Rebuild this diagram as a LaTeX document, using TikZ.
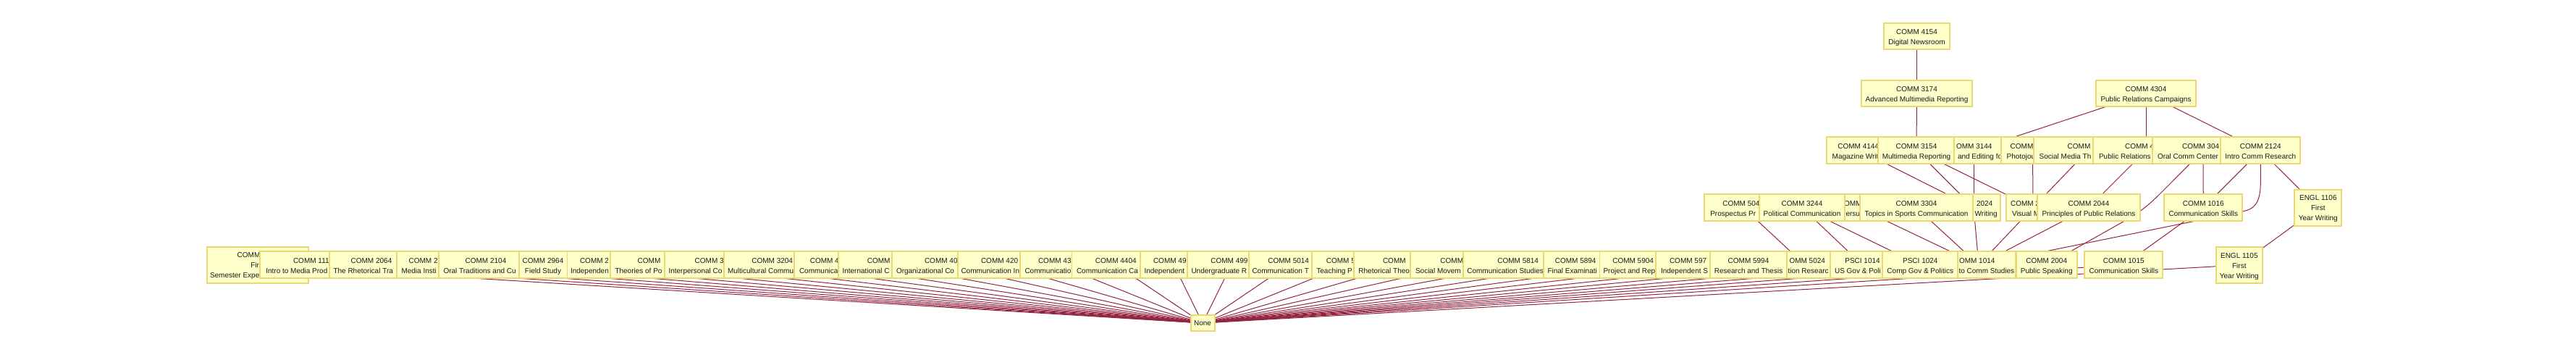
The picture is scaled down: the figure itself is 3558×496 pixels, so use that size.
\documentclass[tikz,border=0pt]{standalone}
\usepackage{fontspec}
\setmainfont{Liberation Sans}
\definecolor{boxfill}{RGB}{255,255,202}
\definecolor{boxline}{RGB}{234,216,116}
\definecolor{edgecol}{RGB}{146,36,64}
\tikzset{
  vbox/.style={draw=boxline, fill=boxfill, line width=1.8pt, inner sep=0pt, outer sep=0pt, minimum height=36.7pt},
  tall/.style={minimum height=50pt},
  tx/.style={inner sep=0pt, outer sep=0pt, font=\fontsize{10}{12}\selectfont, text=black!90},
  edge/.style={draw=edgecol, line width=1pt},
}
\newcommand\txl[3]{\node[tx,anchor=base west] at (#1,#2) {#3};}
\newcommand\txc[3]{\node[tx,anchor=base] at (#1,#2) {#3};}
\newcommand\boxnode[6]{%
  \node[vbox,#5,minimum width={(#3)-(#2)}] (#1) at ({((#2)+(#3))/2},#4) {};
  \begin{scope}
    \clip ([xshift=0.9pt,yshift=0.9pt]#1.south west) rectangle ([xshift=-0.9pt,yshift=-0.9pt]#1.north east);
    #6
  \end{scope}}
\begin{document}
\begin{tikzpicture}[x=1pt,y=-1pt]
\fill[white] (0,0) rectangle (3558,496);
\useasboundingbox (0,0) rectangle (3558,496);
% ---------- true centres ----------
\coordinate (p4154) at (2647.5,50);
\coordinate (p3174) at (2647.5,129);
\coordinate (p4304) at (2964,129);
\coordinate (pa1) at (2569,207.7);
\coordinate (pa2) at (2647,207.7);
\coordinate (pa3) at (2726,207.7);
\coordinate (pa4) at (2807.5,207.7);
\coordinate (pa5) at (2884,207.7);
\coordinate (pa6) at (2964,207.7);
\coordinate (pa7) at (3043,207.7);
\coordinate (pa8) at (3122.3,207.7);
\coordinate (pc1) at (2408,286.7);
\coordinate (pc2) at (2489,286.7);
\coordinate (pc3) at (2567,286.7);
\coordinate (pc4) at (2647,286.7);
\coordinate (pc5) at (2726,286.7);
\coordinate (pc6) at (2808,286.7);
\coordinate (pc7) at (2885,286.7);
\coordinate (pc8) at (3043.3,286.7);
\coordinate (pe6) at (3201.8,286.7);
\coordinate (pb0) at (356,365.8);
\coordinate (pb1) at (433.3,365.7);
\coordinate (pb2) at (513,365.7);
\coordinate (pb3) at (593,365.7);
\coordinate (pb4) at (671,365.7);
\coordinate (pb5) at (750,365.7);
\coordinate (pb6) at (829,365.7);
\coordinate (pb7) at (909,365.7);
\coordinate (pb8) at (988,365.7);
\coordinate (pb9) at (1066.7,365.7);
\coordinate (pb10) at (1147,365.7);
\coordinate (pb11) at (1226,365.7);
\coordinate (pb12) at (1305.3,365.7);
\coordinate (pb13) at (1383.3,365.7);
\coordinate (pb14) at (1462.3,365.7);
\coordinate (pb15) at (1541.3,365.7);
\coordinate (pb16) at (1621.3,365.7);
\coordinate (pb17) at (1700.7,365.7);
\coordinate (pb18) at (1779.7,365.7);
\coordinate (pb19) at (1860,365.7);
\coordinate (pb20) at (1938.3,365.7);
\coordinate (pb21) at (2017.7,365.7);
\coordinate (pb22) at (2096.7,365.7);
\coordinate (pb23) at (2176.2,365.7);
\coordinate (pb24) at (2255.6,365.7);
\coordinate (pb25) at (2334.3,365.7);
\coordinate (pb26) at (2415,365.7);
\coordinate (pb27) at (2493,365.7);
\coordinate (pb28) at (2572.5,365.7);
\coordinate (pb29) at (2652.3,365.7);
\coordinate (pb30) at (2733,365.7);
\coordinate (pb31) at (2826.7,365.7);
\coordinate (pb32) at (2933.3,365.7);
\coordinate (pb33) at (3092.8,366);
\coordinate (pnone) at (1661,446);
% ---------- connectors ----------
\draw[edge] (p4154) -- (p3174);
\draw[edge] (p3174) -- (pa2);
\draw[edge] (p4304) -- (pa3);
\draw[edge] (p4304) -- (pa6);
\draw[edge] (p4304) -- (pa8);
\draw[edge] (pa1) -- (pc5);
\draw[edge] (pa2) -- (pc5);
\draw[edge] (pa2) -- (pc6);
\draw[edge] (pa3) -- (pc5);
\draw[edge] (pa4) -- (pc6);
\draw[edge] (pa5) -- (pc6);
\draw[edge] (pa6) -- (pc7);
\draw[edge] (pa7) -- (pc8);
\draw[edge] (pa8) -- (pc8);
\draw[edge] (pa8) -- (pe6);
\draw[edge] (pa7) -- (2985,266) .. controls (2965,286) and (2952,295.5) .. (2930,307.5) -- (pb31);
\draw[edge] (pa8) -- (3122.3,252) .. controls (3122.3,282) and (3112,289) .. (3098.3,291.7) -- (pb30);
\draw[edge] (pc1) -- (pb27);
\draw[edge] (pc2) -- (pb28);
\draw[edge] (pc2) -- (pb29);
\draw[edge] (pc3) -- (pb30);
\draw[edge] (pc4) -- (pb30);
\draw[edge] (pc5) -- (pb30);
\draw[edge] (pc6) -- (pb30);
\draw[edge] (pc7) -- (pb30);
\draw[edge] (pc8) -- (pb32);
\draw[edge] (pe6) -- (pb33);
\foreach \i in {0,...,33} {\draw[edge] (pb\i) -- (pnone);}
% ---------- row 0 ----------
\boxnode{n4154}{2602}{2693}{50}{}{\txc{2647.5}{47.6}{COMM 4154}\txc{2647.5}{61.6}{Digital Newsroom}}
% ---------- row 1 ----------
\boxnode{n3174}{2571}{2724}{129}{}{\txc{2647.5}{126.6}{COMM 3174}\txc{2647.5}{140.6}{Advanced Multimedia Reporting}}
\boxnode{n4304}{2895}{3033}{129}{}{\txc{2964}{126.6}{COMM 4304}\txc{2964}{140.6}{Public Relations Campaigns}}
% ---------- row 2 ----------
\boxnode{na1}{2523}{2594}{207.7}{}{\txl{2538.3}{205.3}{COMM 4144}\txl{2530.7}{219.3}{Magazine Writ}}
\boxnode{na2}{2594}{2699.3}{207.7}{}{\txc{2647}{205.3}{COMM 3154}\txc{2647}{219.3}{Multimedia Reporting}}
\boxnode{na3}{2699.3}{2764}{207.7}{}{\txl{2702}{205.3}{OMM 3144}\txl{2704}{219.3}{and Editing fo}}
\boxnode{na4}{2764}{2809.3}{207.7}{}{\txl{2776.7}{205.3}{COMM}\txl{2771.7}{219.3}{Photojou}}
\boxnode{na5}{2809.3}{2891}{207.7}{}{\txl{2855.7}{205.3}{COMM}\txl{2816.7}{219.3}{Social Media Th}}
\boxnode{na6}{2891}{2972.7}{207.7}{}{\txl{2935}{205.3}{COMM 4}\txl{2899}{219.3}{Public Relations}}
\boxnode{na7}{2972.7}{3067.3}{207.7}{}{\txl{3014}{205.3}{COMM 304}\txl{2980}{219.3}{Oral Comm Center}}
\boxnode{na8}{3067.3}{3177.3}{207.7}{}{\txc{3122.3}{205.3}{COMM 2124}\txc{3122.3}{219.3}{Intro Comm Research}}
% ---------- row 3 ----------
\boxnode{nc1}{2354}{2430}{286.7}{}{\txl{2379.3}{284.3}{COMM 504}\txl{2362.3}{298.3}{Prospectus Pr}}
\boxnode{nc2}{2430}{2548.3}{286.7}{}{\txc{2489}{284.3}{COMM 3244}\txc{2489}{298.3}{Political Communication}}
\boxnode{nc3}{2548.3}{2569.3}{286.7}{}{\txl{2547}{284.3}{OMM}\txl{2549.5}{298.3}{ersu}}
\boxnode{nc4}{2569.3}{2725}{286.7}{}{\txc{2647}{284.3}{COMM 3304}\txc{2647}{298.3}{Topics in Sports Communication}}
\boxnode{nc5}{2725}{2762.7}{286.7}{}{\txl{2730}{284.3}{2024}\txl{2727.7}{298.3}{Writing}}
\boxnode{nc6}{2770.7}{2814}{286.7}{}{\txl{2777}{284.3}{COMM 2}\txl{2779}{298.3}{Visual M}}
\boxnode{nc7}{2814}{2956}{286.7}{}{\txc{2885}{284.3}{COMM 2044}\txc{2885}{298.3}{Principles of Public Relations}}
\boxnode{nc8}{2989.3}{3097.3}{286.7}{}{\txc{3043.3}{284.3}{COMM 1016}\txc{3043.3}{298.3}{Communication Skills}}
\boxnode{ne6}{3169.3}{3234.3}{286.7}{tall}{\txc{3201.8}{276.7}{ENGL 1106}\txc{3201.8}{290.7}{First}\txc{3201.8}{304.7}{Year Writing}}
% ---------- row 4 ----------
\boxnode{nb0}{285.6}{426.3}{365.85}{tall}{\txl{327.7}{355.8}{COMM}\txl{346.3}{369.8}{Fir}\txl{290}{383.8}{Semester Expe}}
\boxnode{nb1}{359.3}{455.3}{365.7}{}{\txl{405}{363.3}{COMM 111}\txl{367.3}{377.3}{Intro to Media Prod}}
\boxnode{nb2}{455.3}{548.1}{365.7}{}{\txc{513}{363.3}{COMM 2064}\txl{460.5}{377.3}{The Rhetorical Tra}}
\boxnode{nb3}{548.1}{606}{365.7}{}{\txl{564.6}{363.3}{COMM 2}\txl{554.5}{377.3}{Media Insti}}
\boxnode{nb4}{606}{717.3}{365.7}{}{\txc{671}{363.3}{COMM 2104}\txl{612.5}{377.3}{Oral Traditions and Cu}}
\boxnode{nb5}{717.3}{783.4}{365.7}{}{\txc{750}{363.3}{COMM 2964}\txc{750}{377.3}{Field Study}}
\boxnode{nb6}{783.4}{842.8}{365.7}{}{\txl{801}{363.3}{COMM 2}\txl{788}{377.3}{Independen}}
\boxnode{nb7}{842.8}{918.2}{365.7}{}{\txl{880.7}{363.3}{COMM}\txl{849.5}{377.3}{Theories of Po}}
\boxnode{nb8}{918.2}{1000}{365.7}{}{\txl{959.7}{363.3}{COMM 3}\txl{923.5}{377.3}{Interpersonal Co}}
\boxnode{nb9}{1000}{1097.3}{365.7}{}{\txc{1066.7}{363.3}{COMM 3204}\txl{1005}{377.3}{Multicultural Commu}}
\boxnode{nb10}{1097.3}{1158}{365.7}{}{\txl{1118.8}{363.3}{COMM 4}\txl{1104}{377.3}{Communica}}
\boxnode{nb11}{1158}{1232}{365.7}{}{\txl{1197.8}{363.3}{COMM}\txl{1163.5}{377.3}{International C}}
\boxnode{nb12}{1232}{1322.8}{365.7}{}{\txl{1277}{363.3}{COMM 40}\txl{1238}{377.3}{Organizational Co}}
\boxnode{nb13}{1322.8}{1409}{365.7}{}{\txl{1355}{363.3}{COMM 420}\txl{1327.5}{377.3}{Communication In}}
\boxnode{nb14}{1409}{1480.4}{365.7}{}{\txl{1434}{363.3}{COMM 43}\txl{1415.5}{377.3}{Communicatio}}
\boxnode{nb15}{1480.4}{1575}{365.7}{}{\txc{1541.3}{363.3}{COMM 4404}\txl{1487}{377.3}{Communication Ca}}
\boxnode{nb16}{1575}{1639.7}{365.7}{}{\txl{1593}{363.3}{COMM 49}\txl{1580.5}{377.3}{Independent}}
\boxnode{nb17}{1639.7}{1724.6}{365.7}{}{\txl{1672.4}{363.3}{COMM 499}\txl{1645.5}{377.3}{Undergraduate R}}
\boxnode{nb18}{1724.6}{1812}{365.7}{}{\txc{1779.7}{363.3}{COMM 5014}\txl{1729.5}{377.3}{Communication T}}
\boxnode{nb19}{1812}{1870}{365.7}{}{\txl{1831.8}{363.3}{COMM 5}\txl{1818.4}{377.3}{Teaching P}}
\boxnode{nb20}{1870}{1948.3}{365.7}{}{\txl{1910}{363.3}{COMM}\txl{1876.4}{377.3}{Rhetorical Theo}}
\boxnode{nb21}{1948.3}{2020.6}{365.7}{}{\txl{1989.4}{363.3}{COMM}\txl{1955}{377.3}{Social Movem}}
\boxnode{nb22}{2020.6}{2132.2}{365.7}{}{\txc{2096.7}{363.3}{COMM 5814}\txl{2026.3}{377.3}{Communication Studies}}
\boxnode{nb23}{2132.2}{2209.5}{365.7}{}{\txc{2176.2}{363.3}{COMM 5894}\txl{2137.5}{377.3}{Final Examinati}}
\boxnode{nb24}{2209.5}{2287.3}{365.7}{}{\txc{2255.6}{363.3}{COMM 5904}\txl{2214.5}{377.3}{Project and Rep}}
\boxnode{nb25}{2287.3}{2361.7}{365.7}{}{\txl{2306}{363.3}{COMM 597}\txl{2294}{377.3}{Independent S}}
\boxnode{nb26}{2361.7}{2468.3}{365.7}{}{\txc{2415}{363.3}{COMM 5994}\txc{2415}{377.3}{Research and Thesis}}
\boxnode{nb27}{2468.3}{2528.3}{365.7}{}{\txl{2471.5}{363.3}{OMM 5024}\txl{2469.5}{377.3}{tion Researc}}
\boxnode{nb28}{2528.3}{2600}{365.7}{}{\txc{2572.5}{363.3}{PSCI 1014}\txl{2534}{377.3}{US Gov \& Poli}}
\boxnode{nb29}{2600}{2704}{365.7}{}{\txc{2652.3}{363.3}{PSCI 1024}\txc{2652.3}{377.3}{Comp Gov \& Politics}}
\boxnode{nb30}{2704}{2784}{365.7}{}{\txl{2706}{363.3}{OMM 1014}\txl{2705.5}{377.3}{to Comm Studies}}
\boxnode{nb31}{2785}{2868.6}{365.7}{}{\txc{2826.7}{363.3}{COMM 2004}\txc{2826.7}{377.3}{Public Speaking}}
\boxnode{nb32}{2879.3}{2987.3}{365.7}{}{\txc{2933.3}{363.3}{COMM 1015}\txc{2933.3}{377.3}{Communication Skills}}
\boxnode{nb33}{3060.7}{3125}{366}{tall}{\txc{3092.8}{356}{ENGL 1105}\txc{3092.8}{370}{First}\txc{3092.8}{384}{Year Writing}}
% ---------- sink ----------
\boxnode{nnone}{1644.7}{1677.8}{446}{minimum height=21.7pt}{\txc{1661}{449.6}{None}}
\end{tikzpicture}
\end{document}
